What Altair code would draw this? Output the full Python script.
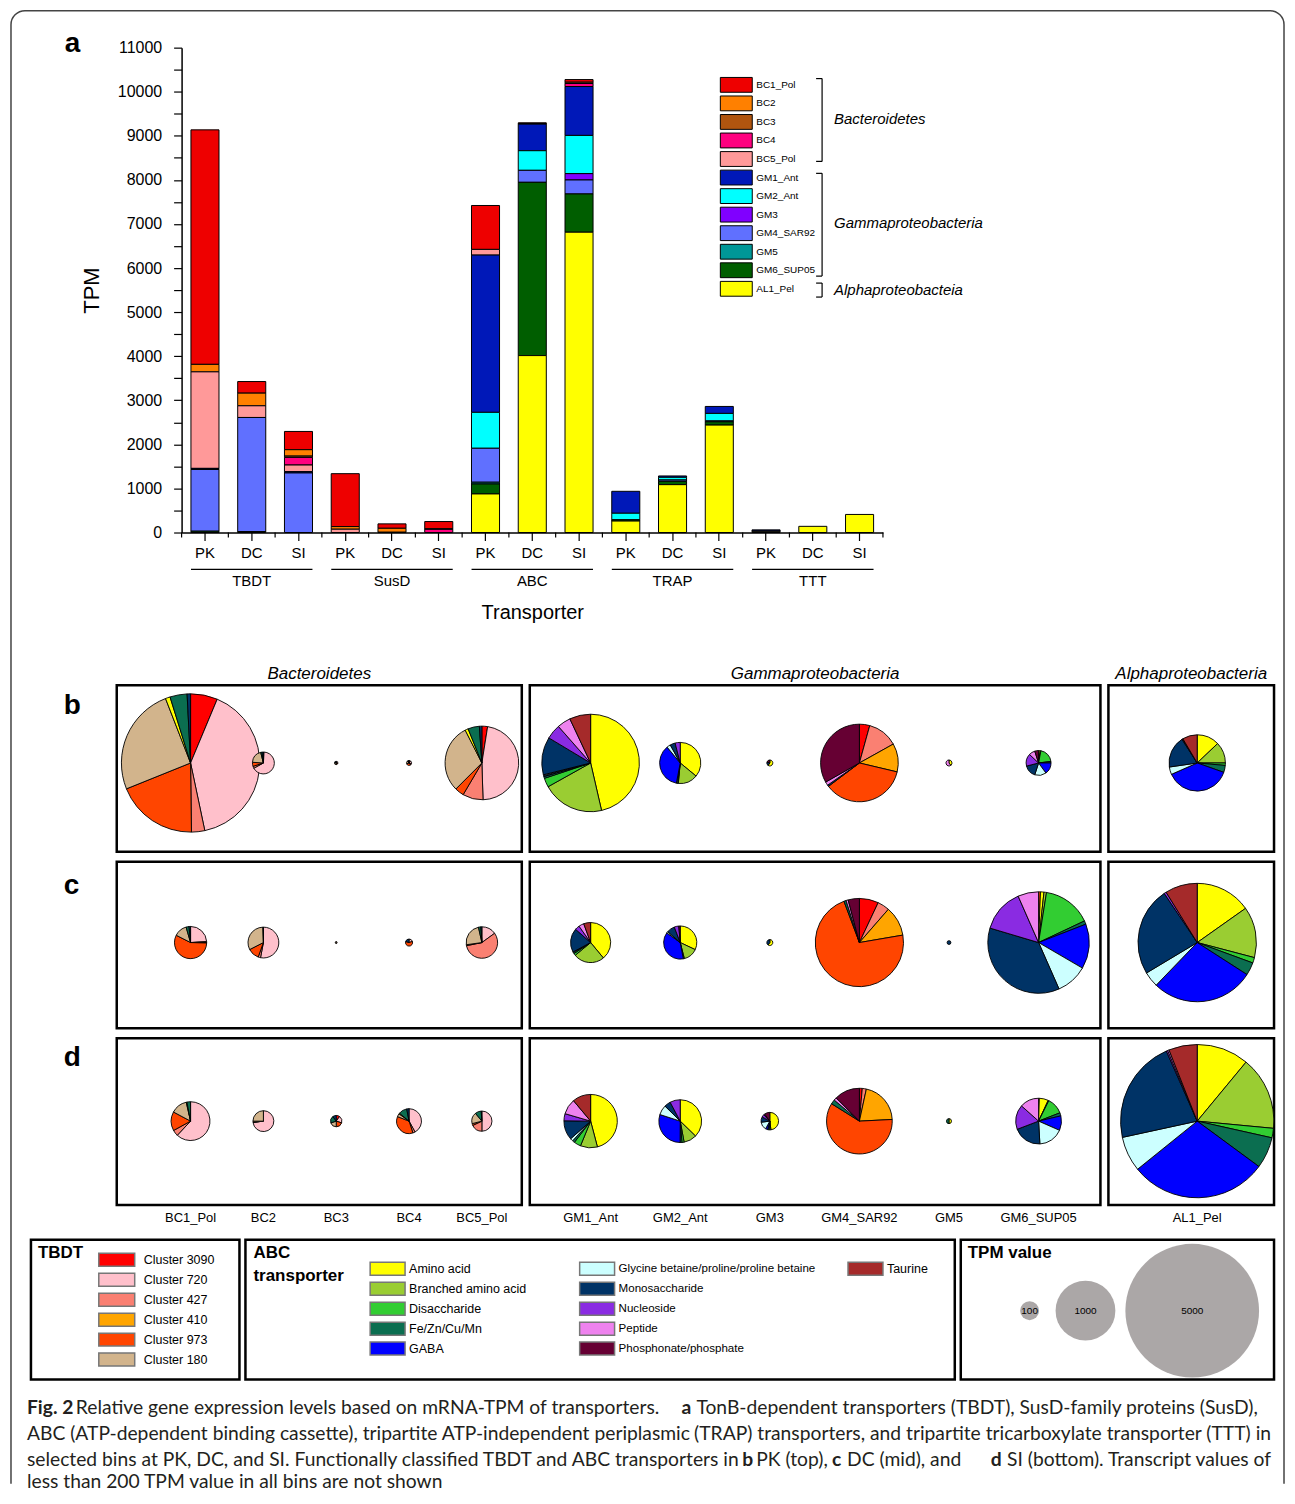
import math
import altair as alt
import pandas as pd

AX_FONT = "Liberation Sans"
CAP_FONT = "Lato"

# ---------------- panel a data ----------------
BINS = ["BC1_Pol", "BC2", "BC3", "BC4", "BC5_Pol", "GM1_Ant", "GM2_Ant", "GM3",
        "GM4_SAR92", "GM5", "GM6_SUP05", "AL1_Pel"]
BIN_COLORS = ["#EE0000", "#FF8000", "#B0550F", "#FF007F", "#FF9999", "#0018B8",
              "#00FFFF", "#8000FF", "#6070FF", "#009797", "#005E00", "#FFFF00"]
TRANSPORTERS = ["TBDT", "SusD", "ABC", "TRAP", "TTT"]
SITES = ["PK", "DC", "SI"]

# TPM per bin (BINS order)
TBDT_TPM = {"PK": [5320, 170, 0, 0, 2190, 25, 0, 0, 1400, 0, 30, 0],
            "DC": [263, 287, 0, 0, 265, 0, 0, 0, 2590, 0, 20, 0],
            "SI": [414, 145, 30, 173, 150, 30, 0, 0, 1351, 0, 0, 0]}
SUSD_TPM = {"PK": [1200, 60, 0, 0, 75, 0, 0, 0, 0, 0, 0, 0],
            "DC": [100, 90, 0, 0, 6, 0, 0, 0, 0, 0, 0, 0],
            "SI": [165, 0, 12, 72, 0, 0, 0, 0, 0, 0, 0, 0]}
ABC_TPM = {"PK": [996, 0, 0, 0, 129, 3568, 815, 0, 770, 40, 226, 875],
           "DC": [15, 15, 0, 0, 0, 603, 445, 0, 272, 0, 3931, 4014],
           "SI": [60, 0, 30, 68, 0, 1109, 867, 144, 317, 0, 868, 6813]}
TRAP_TPM = {"PK": [0, 0, 0, 0, 0, 498, 147, 0, 0, 0, 30, 260],
            "DC": [0, 0, 0, 0, 0, 31, 60, 0, 30, 0, 76, 1086],
            "SI": [0, 0, 0, 0, 0, 158, 170, 0, 20, 0, 75, 2437]}
TTT_TPM = {"PK": [0, 0, 0, 0, 0, 25, 0, 0, 20, 0, 0, 15],
           "DC": [0, 0, 0, 0, 0, 0, 0, 0, 0, 0, 0, 140],
           "SI": [0, 0, 0, 0, 0, 0, 0, 0, 0, 0, 0, 410]}

# ---------------- panels b-d data ----------------
CATS = ["Cluster 3090", "Cluster 720", "Cluster 427", "Cluster 410", "Cluster 973", "Cluster 180",
        "Amino acid", "Branched amino acid", "Disaccharide", "Fe/Zn/Cu/Mn", "GABA",
        "Glycine betaine/proline/proline betaine", "Monosaccharide", "Nucleoside", "Peptide",
        "Phosphonate/phosphate", "Taurine"]
CAT_COLORS = ["#FF0000", "#FFC0CB", "#FA8072", "#FFA500", "#FF4500", "#D2B48C",
              "#FFFF00", "#9ACD32", "#32CD32", "#0B6E50", "#0000FF",
              "#CCFFFF", "#003366", "#8A2BE2", "#EE82EE", "#660033", "#A52A2A"]

PIE_TOTAL_PK = [5350, 134, 3, 7, 1517, 2660, 474, 10, 1685, 10, 173, 888]
PIE_TOTAL_DC = [290, 266, 1, 14, 277, 450, 308, 10, 2178, 4, 2880, 3923]
PIE_TOTAL_SI = [421, 122, 36, 173, 114, 797, 512, 86, 1207, 7, 586, 6570]

# percent composition per bin (CATS order)
PIE_PCT_PK = {
    "BC1_Pol":   [6.3, 40.4, 3.1, 0, 19.1, 25.2, 1.1, 0, 0, 4.0, 0, 0, 0.8, 0, 0, 0, 0],
    "BC2":       [1, 66, 3, 0, 6, 20, 0, 0, 0, 2, 0, 0, 2, 0, 0, 0, 0],
    "BC3":       [0, 30, 0, 0, 20, 30, 0, 0, 0, 10, 0, 0, 10, 0, 0, 0, 0],
    "BC4":       [10, 20, 10, 0, 30, 20, 0, 0, 0, 5, 0, 0, 5, 0, 0, 0, 0],
    "BC5_Pol":   [2.5, 47, 9, 0, 4, 30, 1.4, 0, 0, 5, 0, 0, 1.1, 0, 0, 0, 0],
    "GM1_Ant":   [0, 0, 0, 0, 0, 0, 46.4, 20.5, 3, 0.6, 0.3, 0.3, 12.5, 4.9, 4.5, 0, 7],
    "GM2_Ant":   [0, 0, 0, 0, 0, 0, 36, 15.5, 0.5, 1, 36, 3, 4, 4, 0, 0, 0],
    "GM3":       [0, 0, 0, 0, 0, 0, 60, 0, 0, 0, 0, 0, 20, 0, 0, 20, 0],
    "GM4_SAR92": [4.3, 0, 12.6, 11.8, 36, 0, 0, 0, 0, 0, 0, 0, 0.6, 0, 1.5, 33.2, 0],
    "GM5":       [0, 0, 0, 0, 0, 0, 40, 0, 0, 0, 0, 0, 0, 0, 60, 0, 0],
    "GM6_SUP05": [0, 0, 0, 0, 0, 0, 2, 1, 20, 2, 15, 15, 16, 16, 8, 5, 0],
    "AL1_Pel":   [0, 0, 0, 0, 0, 0, 12.9, 12.1, 1.4, 4, 38, 4.3, 18.2, 0.3, 0.3, 0, 8.5],
}
PIE_PCT_DC = {
    "BC1_Pol":   [0, 24, 1, 0.5, 57, 13, 0, 0, 0, 3, 0, 0, 1.5, 0, 0, 0, 0],
    "BC2":       [0, 53, 2.5, 0, 12, 32, 0, 0, 0, 0, 0, 0, 0.5, 0, 0, 0, 0],
    "BC3":       [0, 50, 0, 0, 0, 50, 0, 0, 0, 0, 0, 0, 0, 0, 0, 0, 0],
    "BC4":       [0, 20, 0, 0, 60, 0, 0, 0, 0, 0, 0, 0, 20, 0, 0, 0, 0],
    "BC5_Pol":   [0, 15, 56.8, 0, 1, 23.7, 0, 0, 0, 2.5, 0, 0, 1, 0, 0, 0, 0],
    "GM1_Ant":   [0, 0, 0, 0, 0, 0, 39, 25, 1.7, 1, 0, 0.5, 19.3, 3.7, 4.2, 0, 5.6],
    "GM2_Ant":   [0, 0, 0, 0, 0, 0, 32, 14, 1, 0, 38, 1.4, 7.8, 4.4, 0, 1.4, 0],
    "GM3":       [0, 0, 0, 0, 0, 0, 60, 0, 0, 0, 0, 0, 40, 0, 0, 0, 0],
    "GM4_SAR92": [7, 0, 4.4, 10.9, 72, 0, 0, 0, 0, 0.8, 0, 0, 0, 0, 0.8, 4.1, 0],
    "GM5":       [0, 0, 0, 0, 0, 0, 0, 0, 0, 0, 0, 0, 100, 0, 0, 0, 0],
    "GM6_SUP05": [0, 0, 0, 0, 0.6, 0, 1.1, 0.8, 15.5, 1.1, 14.3, 10, 36.2, 13.8, 6.6, 0, 0],
    "AL1_Pel":   [0, 0, 0, 0, 0, 0, 15.2, 13.9, 1.5, 3.5, 28.1, 4.2, 24.2, 0.6, 0, 0, 8.8],
}
PIE_PCT_SI = {
    "BC1_Pol":   [0, 62, 5, 0, 15.8, 13.6, 0.6, 0, 0, 3, 0, 0, 0, 0, 0, 0, 0],
    "BC2":       [0, 73, 0.5, 0, 1.5, 25, 0, 0, 0, 0, 0, 0, 0, 0, 0, 0, 0],
    "BC3":       [10, 20, 0, 0, 20, 20, 0, 0, 0, 20, 0, 0, 10, 0, 0, 0, 0],
    "BC4":       [0, 42, 3, 0, 36, 4, 1, 0, 0, 11, 0, 0, 3, 0, 0, 0, 0],
    "BC5_Pol":   [0, 50, 18, 0, 3, 18, 0, 0, 0, 10, 0, 0, 1, 0, 0, 0, 0],
    "GM1_Ant":   [0, 0, 0, 0, 0, 0, 45.9, 10.3, 4.2, 1.4, 0, 1.7, 11.7, 4.3, 9.4, 0, 11.1],
    "GM2_Ant":   [0, 0, 0, 0, 0, 0, 37.3, 9.8, 1.6, 1.4, 29.9, 7.4, 4.8, 7.8, 0, 0, 0],
    "GM3":       [0, 0, 0, 0, 0, 0, 48, 2, 2, 2, 4, 15, 10, 5, 2, 10, 0],
    "GM4_SAR92": [1.4, 0, 2, 20.8, 59.7, 0, 0, 0, 0, 2.2, 0, 0, 0, 0, 1.4, 12.5, 0],
    "GM5":       [0, 0, 0, 0, 0, 0, 50, 0, 0, 50, 0, 0, 0, 0, 0, 0, 0],
    "GM6_SUP05": [0.5, 0, 0, 0, 0, 0, 6.4, 0.5, 11.7, 2.2, 10.3, 17.5, 20.1, 17.4, 13.4, 0, 0],
    "AL1_Pel":   [0, 0, 0, 0, 0, 0, 11, 15.5, 2, 6.6, 29.1, 7.4, 21.8, 0.3, 0.3, 0, 6],
}
TPM_LEGEND = [100, 1000, 5000]

# ---------------- helpers ----------------
ONE = pd.DataFrame({"k": [0]})


def txt(x, y, s, size, weight="normal", style="normal", align="left", font=AX_FONT,
        color="black", baseline="middle"):
    return alt.Chart(ONE).mark_text(text=s, align=align, baseline=baseline, fontSize=size,
                                    fontWeight=weight, fontStyle=style, font=font,
                                    color=color).encode(x=alt.value(x), y=alt.value(y))


def seg(x1, y1, x2, y2, w=1.2, color="black"):
    return alt.Chart(ONE).mark_rule(color=color, strokeWidth=w).encode(
        x=alt.value(x1), y=alt.value(y1), x2=alt.value(x2), y2=alt.value(y2))


def box(x1, x2, h, sw=2.5, color="black"):
    return alt.Chart(ONE).mark_rect(fillOpacity=0, stroke=color, strokeWidth=sw).encode(
        x=alt.value(x1), x2=alt.value(x2), y=alt.value(0), y2=alt.value(h))


def spacer(w, h):
    return alt.Chart(ONE).mark_rect(fillOpacity=0, strokeWidth=0).encode(
        x=alt.value(1), x2=alt.value(2), y=alt.value(1), y2=alt.value(2)).properties(width=w, height=h)


ROW_W = 1267

# ---------------- panel a ----------------
A_LEFT, W_A, H_A = 172, 703, 486
KEYS = [f"{t}|{s}" for t in TRANSPORTERS for s in SITES]
recs = []
for t, tab in zip(TRANSPORTERS, [TBDT_TPM, SUSD_TPM, ABC_TPM, TRAP_TPM, TTT_TPM]):
    for s in SITES:
        for i, b in enumerate(BINS):
            recs.append(dict(key=f"{t}|{s}", bin=b, tpm=tab[s][i], ord=len(BINS) - 1 - i))
bar_df = pd.DataFrame(recs)

X_SCALE = alt.Scale(domain=KEYS, range=[A_LEFT, A_LEFT + W_A], paddingInner=0.4, paddingOuter=0.2)
X_AXIS = alt.Axis(title="Transporter", labelExpr="split(datum.value, '|')[1]", labelAngle=0,
                  labelFont=AX_FONT, labelFontSize=15, labelColor="black", labelPadding=5,
                  tickSize=8, tickColor="black", tickWidth=1.2, domainColor="black",
                  domainWidth=1.5, titleFont=AX_FONT, titleFontSize=20, titleFontWeight="normal",
                  titleColor="black", titlePadding=42)
BIN_SCALE = alt.Scale(domain=BINS, range=BIN_COLORS)


def xk(field):
    return alt.X(f"{field}:N", sort=KEYS, scale=X_SCALE, axis=X_AXIS)


bars = alt.Chart(bar_df).transform_filter("datum.tpm > 0").mark_bar(
    stroke="black", strokeWidth=1).encode(
    x=xk("key"),
    y=alt.Y("tpm:Q", stack="zero", scale=alt.Scale(domain=[0, 11000], nice=False),
            axis=alt.Axis(title="TPM", values=list(range(0, 11001, 500)), format="d",
                          labelExpr="datum.value % 1000 == 0 ? datum.label : ''", grid=False,
                          offset=-A_LEFT,
                          labelFont=AX_FONT, labelFontSize=16, labelColor="black",
                          labelPadding=12, tickSize=8, tickColor="black", tickWidth=1.2,
                          domainColor="black", domainWidth=1.5, titleFont=AX_FONT,
                          titleFontSize=22, titleFontWeight="normal", titleColor="black",
                          titlePadding=14)),
    color=alt.Color("bin:N", scale=BIN_SCALE, legend=None),
    order=alt.Order("ord:Q", sort="ascending"),
)

half = W_A / 15 / 2
key_df = pd.DataFrame({"key": KEYS})
bnd = alt.Chart(key_df).mark_rule(color="black", strokeWidth=1.2, xOffset=-half).encode(
    x=xk("key"), y=alt.value(H_A), y2=alt.value(H_A + 5))
bnd_last = alt.Chart(key_df).transform_filter(f"datum.key == '{KEYS[-1]}'").mark_rule(
    color="black", strokeWidth=1.2, xOffset=half).encode(
    x=xk("key"), y=alt.value(H_A), y2=alt.value(H_A + 5))

grp_df = pd.DataFrame({"group": TRANSPORTERS,
                       "k1": [f"{t}|PK" for t in TRANSPORTERS],
                       "k2": [f"{t}|SI" for t in TRANSPORTERS],
                       "km": [f"{t}|DC" for t in TRANSPORTERS]})
grp_rule = alt.Chart(grp_df).mark_rule(color="black", strokeWidth=1.3, xOffset=-14,
                                       x2Offset=14).encode(
    x=xk("k1"), x2="k2:N", y=alt.value(523))
grp_txt = alt.Chart(grp_df).mark_text(font=AX_FONT, fontSize=15, baseline="middle").encode(
    x=xk("km"), y=alt.value(535), text="group:N")

LEG_Y = alt.Scale(domain=BINS, range=[28, 251], paddingInner=0.2, paddingOuter=0.1)
leg_df = pd.DataFrame({"bin": BINS})
LX = A_LEFT + 540
leg_sw = alt.Chart(leg_df).mark_rect(stroke="black", strokeWidth=1).encode(
    x=alt.value(LX), x2=alt.value(LX + 32),
    y=alt.Y("bin:N", sort=BINS, scale=LEG_Y, axis=None),
    color=alt.Color("bin:N", scale=BIN_SCALE, legend=None))
leg_tx = alt.Chart(leg_df).mark_text(align="left", baseline="middle", font=AX_FONT,
                                     fontSize=10).encode(
    x=alt.value(LX + 36), y=alt.Y("bin:N", sort=BINS, scale=LEG_Y, axis=None), text="bin:N")

BX = A_LEFT + 642
brackets = []
for (y1, y2) in [(31, 114), (126, 229), (236, 250)]:
    brackets += [seg(BX, y1, BX, y2, 1.2), seg(BX - 6, y1, BX, y1, 1.2), seg(BX - 6, y2, BX, y2, 1.2)]
brackets += [txt(BX + 12, 72, "Bacteroidetes", 15, style="italic"),
             txt(BX + 12, 176, "Gammaproteobacteria", 15, style="italic"),
             txt(BX + 12, 243, "Alphaproteobacteia", 15, style="italic")]

panel_a = alt.layer(bars, bnd, bnd_last, grp_rule, grp_txt, leg_sw, leg_tx, *brackets).resolve_scale(
    y="independent").properties(width=A_LEFT + W_A, height=H_A)

# ---------------- panels b-d ----------------
pie_recs = []
for site, pcts, totals in [("PK", PIE_PCT_PK, PIE_TOTAL_PK), ("DC", PIE_PCT_DC, PIE_TOTAL_DC),
                           ("SI", PIE_PCT_SI, PIE_TOTAL_SI)]:
    for j, b in enumerate(BINS):
        for k, c in enumerate(CATS):
            p = pcts[b][k]
            if p > 0:
                pie_recs.append(dict(site=site, bin=b, cat=c, ord=k, pct=p, total=totals[j]))
pie_df = pd.DataFrame(pie_recs)
lab_df = pd.DataFrame({"bin": BINS})

# group name, bins, box x-extent, x range of pie centres
GROUPS = [("Bacteroidetes", BINS[:5], (107, 513), [181, 473]),
          ("Gammaproteobacteria", BINS[5:11], (521, 1093), [582, 1031]),
          ("Alphaproteobacteria", BINS[11:], (1101, 1267), [1107, 1273])]
R_SCALE = alt.Scale(type="sqrt", domain=[0, 5000], range=[0, 67], zero=True)
CAT_SCALE = alt.Scale(domain=CATS, range=CAT_COLORS)
BOX_H = 167


def group_scale(gbins, xr):
    return alt.Scale(type="point", domain=gbins, range=xr, padding=0 if len(gbins) > 1 else 0.5)


def pie_row(site, letter, yc, ly, cell_h):
    layers = [txt(54, ly, letter, 28, weight="bold")]
    for (g, gbins, (x1, x2), xr) in GROUPS:
        layers.append(box(x1, x2, BOX_H))
        layers.append(
            alt.Chart(pie_df)
            .transform_filter(alt.FieldEqualPredicate(field="site", equal=site))
            .transform_filter(alt.FieldOneOfPredicate(field="bin", oneOf=gbins))
            .transform_joinaggregate(psum="sum(pct)", groupby=["bin"])
            .transform_calculate(frac="datum.pct / datum.psum")
            .transform_stack(stack="frac", groupby=["bin"], as_=["f0", "f1"],
                             sort=[alt.SortField(field="ord", order="ascending")])
            .mark_arc(stroke="black", strokeWidth=0.9)
            .encode(
                x=alt.X("bin:N", sort=gbins, scale=group_scale(gbins, xr), axis=None),
                y=alt.value(yc),
                theta=alt.Theta("f0:Q", stack=False,
                                scale=alt.Scale(domain=[0, 1], range=[0, 2 * math.pi])),
                theta2="f1:Q",
                radius=alt.Radius("total:Q", scale=R_SCALE),
                color=alt.Color("cat:N", scale=CAT_SCALE, legend=None)))
        if site == "SI":
            layers.append(
                alt.Chart(lab_df).transform_filter(alt.FieldOneOfPredicate(field="bin", oneOf=gbins))
                .mark_text(font=AX_FONT, fontSize=13, baseline="middle", color="black")
                .encode(x=alt.X("bin:N", sort=gbins, scale=group_scale(gbins, xr), axis=None),
                        y=alt.value(BOX_H + 13), text="bin:N"))
        if site == "PK":
            layers.append(txt((x1 + x2) / 2, -11, g, 17, style="italic", align="center"))
    return alt.layer(*layers).resolve_scale(x="independent").properties(width=ROW_W, height=cell_h)


row_b = pie_row("PK", "b", 78, 21, 177)
row_c = pie_row("DC", "c", 81, 24, 177)
row_d = pie_row("SI", "d", 83, 20, 202)

# ---------------- legends row ----------------
LEG_H = 140
LEG_FS = 12.5
TBX, ABX, TPX = 21, 236, 953
tb_cats = CATS[:6]
TB_Y = alt.Scale(domain=tb_cats, range=[10, 130], paddingInner=0.35, paddingOuter=0.175)
tb_df = pd.DataFrame({"cat": tb_cats})
tb_sw = alt.Chart(tb_df).mark_rect(stroke="#777", strokeWidth=1.5).encode(
    x=alt.value(TBX + 68), x2=alt.value(TBX + 104),
    y=alt.Y("cat:N", sort=tb_cats, scale=TB_Y, axis=None),
    color=alt.Color("cat:N", scale=CAT_SCALE, legend=None))
tb_tx = alt.Chart(tb_df).mark_text(align="left", baseline="middle", font=AX_FONT,
                                   fontSize=LEG_FS).encode(
    x=alt.value(TBX + 113), y=alt.Y("cat:N", sort=tb_cats, scale=TB_Y, axis=None), text="cat:N")

abc_cats = CATS[6:]
abc_df = pd.DataFrame({"cat": abc_cats,
                       "col": [0] * 5 + [1] * 5 + [2],
                       "r": [0, 1, 2, 3, 4, 0, 1, 2, 3, 4, 0]})
AB_Y = alt.Scale(domain=[0, 1, 2, 3, 4], range=[19, 119], paddingInner=0.35, paddingOuter=0.175)
abc_layers = []
for col, xs, xt, fs in [(0, 125, 164, LEG_FS), (1, 335, 374, 11.6), (2, 604, 643, LEG_FS)]:
    sub = alt.Chart(abc_df).transform_filter(f"datum.col == {col}")
    abc_layers.append(sub.mark_rect(stroke="#777", strokeWidth=1.5).encode(
        x=alt.value(ABX + xs), x2=alt.value(ABX + xs + 35), y=alt.Y("r:O", scale=AB_Y, axis=None),
        color=alt.Color("cat:N", scale=CAT_SCALE, legend=None)))
    abc_layers.append(sub.mark_text(align="left", baseline="middle", font=AX_FONT,
                                    fontSize=fs).encode(
        x=alt.value(ABX + xt), y=alt.Y("r:O", scale=AB_Y, axis=None), text="cat:N"))

tpm_df = pd.DataFrame({"tpm": TPM_LEGEND})
tpm_layers = []
for v, xc in zip(TPM_LEGEND, [69, 125, 232]):
    sub = alt.Chart(tpm_df).transform_filter(f"datum.tpm == {v}")
    tpm_layers.append(sub.mark_arc(fill="#ABA7A7").encode(
        x=alt.value(TPX + xc), y=alt.value(71), theta=alt.value(0), theta2=alt.value(2 * math.pi),
        radius=alt.Radius("tpm:Q", scale=R_SCALE)))
    tpm_layers.append(sub.mark_text(font=AX_FONT, fontSize=10, baseline="middle").encode(
        x=alt.value(TPX + xc), y=alt.value(71), text="tpm:N"))

legends = alt.layer(
    box(TBX, TBX + 209, LEG_H), tb_sw, tb_tx, txt(TBX + 7, 13, "TBDT", 17, weight="bold"),
    box(ABX, ABX + 711, LEG_H), *abc_layers,
    txt(ABX + 8, 13, "ABC", 17, weight="bold"),
    txt(ABX + 8, 36, "transporter", 17, weight="bold"),
    box(TPX, TPX + 314, LEG_H), *tpm_layers,
    txt(TPX + 7, 13, "TPM value", 17, weight="bold"),
).resolve_scale(y="independent").properties(width=ROW_W, height=LEG_H)

# ---------------- caption ----------------
CAP = 19.3
CC = "#231F20"
cap_items = [
    (17, 29, "Fig. 2", "bold", "left"),
    (66, 29, "Relative gene expression levels based on mRNA-TPM of transporters.", "normal", "left"),
    (673, 29, "a", "bold", "left"),
    (688, 29, "TonB-dependent transporters (TBDT), SusD-family proteins (SusD),", "normal", "left"),
    (17, 55, "ABC (ATP-dependent binding cassette), tripartite ATP-independent periplasmic", "normal", "left"),
    (1264, 55, "(TRAP) transporters, and tripartite tricarboxylate transporter (TTT) in", "normal", "right"),
    (17, 81, "selected bins at PK, DC, and SI. Functionally classified TBDT and ABC transporters in", "normal", "left"),
    (734, 81, "b", "bold", "left"),
    (748, 81, "PK (top),", "normal", "left"),
    (824, 81, "c", "bold", "left"),
    (839, 81, "DC (mid), and", "normal", "left"),
    (983, 81, "d", "bold", "left"),
    (1264, 81, "SI (bottom). Transcript values of", "normal", "right"),
    (17, 103, "less than 200 TPM value in all bins are not shown", "normal", "left"),
]
caption = alt.layer(*[txt(x, y, s, CAP, weight=w, align=a, font=CAP_FONT, color=CC)
                      for (x, y, s, w, a) in cap_items]).properties(width=1264, height=104)

# ---------------- header / frame (bottom edge runs off the page) ----------------
FRAME_R, FRAME_B = 1277, 1479
frame = alt.Chart(ONE).mark_rect(fillOpacity=0, stroke="#444", strokeWidth=1.5,
                                 cornerRadiusTopLeft=14, cornerRadiusTopRight=14).encode(
    x=alt.value(1), x2=alt.value(FRAME_R), y=alt.value(1), y2=alt.value(FRAME_B))
frame_cut = seg(0, FRAME_B, FRAME_R + 1, FRAME_B, w=3, color="white")
header = alt.layer(frame, frame_cut, txt(55, 34, "a", 28, weight="bold")).properties(
    width=1264, height=38)

chart = alt.vconcat(header, panel_a, spacer(10, 153), row_b, row_c, row_d, legends, caption,
                    spacing=0, bounds="flush").resolve_scale(
    color="independent").properties(padding=0).configure_view(strokeWidth=0)

chart.save("out.html", embed_options={"renderer": "svg", "actions": False})
